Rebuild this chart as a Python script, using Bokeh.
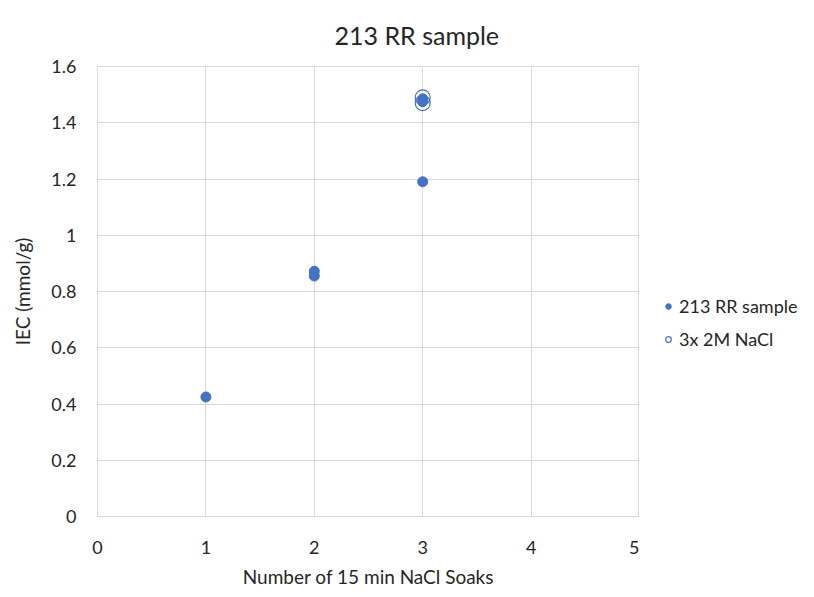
from bokeh.plotting import figure
from bokeh.layouts import row
from bokeh.models import FixedTicker, Legend, LegendItem, Range1d
from bokeh.embed import file_html
from bokeh.resources import INLINE

# Data
sample_x = [1, 2, 2, 3, 3, 3]
sample_y = [0.425, 0.855, 0.872, 1.19, 1.485, 1.475]
nacl_x = [3, 3]
nacl_y = [1.49, 1.47]
series_names = ["213 RR sample", "3x 2M NaCl"]

x_ticks = [0, 1, 2, 3, 4, 5]
y_ticks = [0, 0.2, 0.4, 0.6, 0.8, 1.0, 1.2, 1.4, 1.6]
y_tick_labels = ["0", "0.2", "0.4", "0.6", "0.8", "1", "1.2", "1.4", "1.6"]

FONT = "Lato"
BLUE = "#4472C4"
GRID = "#d9d9d9"
TXT = "#262626"

p = figure(frame_width=542, frame_height=450, output_backend="svg", toolbar_location=None,
           x_range=Range1d(0, 5), y_range=Range1d(0, 1.6),
           min_border_left=97, min_border_right=0, min_border_top=66, min_border_bottom=81)

p.title.text = "213 RR sample"
p.title.align = "left"
p.title.text_font = FONT
p.title.text_font_size = "25px"
p.title.text_font_style = "normal"
p.title.text_color = TXT
p.title.offset = 237
p.title.standoff = 34

p.outline_line_color = GRID
p.background_fill_color = "white"
p.border_fill_color = "white"

for ax in (p.xaxis, p.yaxis):
    ax.axis_line_color = GRID
    ax.major_tick_line_color = None
    ax.minor_tick_line_color = None
    ax.major_label_text_font = FONT
    ax.major_label_text_font_size = "18px"
    ax.major_label_text_color = TXT
    ax.axis_label_text_font = FONT
    ax.axis_label_text_font_size = "19px"
    ax.axis_label_text_font_style = "normal"
    ax.axis_label_text_color = TXT

p.xaxis.ticker = FixedTicker(ticks=x_ticks)
p.yaxis.ticker = FixedTicker(ticks=y_ticks)
p.yaxis.major_label_overrides = {t: l for t, l in zip(y_ticks, y_tick_labels)}
p.xaxis.axis_label = "Number of 15 min NaCl Soaks"
p.yaxis.axis_label = "IEC (mmol/g)"
p.xaxis.major_label_standoff = 18
p.yaxis.major_label_standoff = 15
p.xaxis.axis_label_standoff = 8
p.yaxis.axis_label_standoff = 14

p.xgrid.grid_line_color = GRID
p.ygrid.grid_line_color = GRID

p.scatter(sample_x, sample_y, size=10, marker="circle", fill_color=BLUE, line_color=BLUE)
p.scatter(nacl_x, nacl_y, size=15, marker="circle", fill_color=None, line_color=BLUE, line_width=1.2)

# Legend panel (separate figure to the right of the plot); its key glyphs
# reuse the series data but lie outside this panel's visible range.
lg = figure(width=175, height=597, output_backend="svg", toolbar_location=None,
            x_range=Range1d(100, 101), y_range=Range1d(100, 101),
            x_axis_location=None, y_axis_location=None,
            min_border=0)
lg.outline_line_color = None
lg.xgrid.visible = False
lg.ygrid.visible = False
lg.background_fill_color = "white"
lg.border_fill_color = "white"
k1 = lg.scatter(sample_x[:1], sample_y[:1], size=10, marker="circle", fill_color=BLUE, line_color=BLUE)
k2 = lg.scatter(nacl_x[:1], nacl_y[:1], size=10, marker="circle", fill_color=None, line_color=BLUE, line_width=1.2)

legend = Legend(items=[LegendItem(label=series_names[0], renderers=[k1]),
                       LegendItem(label=series_names[1], renderers=[k2])],
                location=(22, 166))
legend.label_text_font = FONT
legend.label_text_font_size = "18px"
legend.label_text_color = TXT
legend.border_line_color = None
legend.background_fill_alpha = 0
legend.glyph_width = 14
legend.label_standoff = 4
legend.spacing = 11
legend.margin = 0
legend.padding = 0
lg.add_layout(legend, "center")

layout = row(p, lg, spacing=0)
open("out.html", "w").write(file_html(layout, INLINE))
